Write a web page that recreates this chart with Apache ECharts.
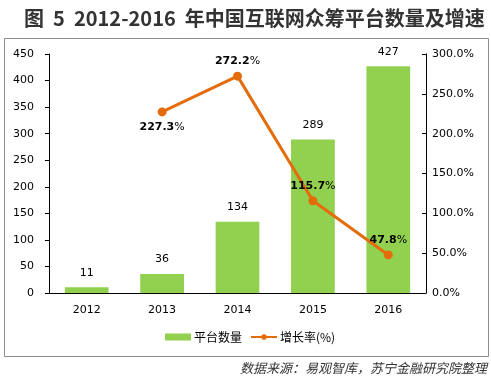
<!DOCTYPE html>
<html><head><meta charset="utf-8">
<script src="https://cdn.jsdelivr.net/npm/echarts@6/dist/echarts.min.js"></script>
<style>html,body{margin:0;padding:0;background:#fff}#c{width:491px;height:380px}</style>
</head><body><div id="c"></div>
<script>
const categories = ['2012','2013','2014','2015','2016'];
const platformCount = [11, 36, 134, 289, 427];
const growthRate = [null, 227.3, 272.2, 115.7, 47.8];
const leftTicks = [0, 450, 50];
const rightTicks = [0, 300, 50];

const chart = echarts.init(document.getElementById('c'));
const numFont = '"DejaVu Sans", Verdana, sans-serif';
const cjk = '"Noto Sans CJK SC", sans-serif';
const labelPos = [null, 'bottom', 'top', 'top', 'top'];
chart.setOption({
  animation: false,
  title: {
    text: '图  5  2012-2016  年中国互联网众筹平台数量及增速',
    left: 19, top: 3,
    textStyle: {fontFamily: cjk, fontSize: 20, fontWeight: 'bold', color: '#333'}
  },
  graphic: [
    {type: 'rect', shape: {x: 4.5, y: 38.5, width: 484, height: 318}, style: {fill: 'none', stroke: '#8c8c8c', lineWidth: 1}, silent: true},
    {type: 'text', right: 4, top: 362, style: {text: '数据来源：易观智库，苏宁金融研究院整理', font: 'italic 13px "Noto Sans CJK SC", sans-serif', fill: '#333'}}
  ],
  legend: {
    top: 326, left: 160, itemGap: 8, itemWidth: 26, itemHeight: 7,
    textStyle: {fontFamily: cjk, fontSize: 12, color: '#000', padding: [0, 0, 0, -2]},
    data: [{name: '平台数量', icon: 'rect'}, {name: '增长率(%)'}]
  },
  grid: {left: 49, right: 65, top: 54, bottom: 87},
  xAxis: {
    type: 'category', data: categories,
    axisLine: {lineStyle: {color: '#000'}},
    axisTick: {length: 4, lineStyle: {color: '#000'}},
    axisLabel: {fontFamily: numFont, fontSize: 11, color: '#000', margin: 12}
  },
  yAxis: [{
    type: 'value', min: leftTicks[0], max: leftTicks[1], interval: leftTicks[2],
    axisLine: {show: true, lineStyle: {color: '#000'}},
    axisTick: {show: true, length: 4, lineStyle: {color: '#000'}},
    splitLine: {show: false},
    axisLabel: {fontFamily: numFont, fontSize: 11, color: '#000', margin: 15}
  }, {
    type: 'value', min: rightTicks[0], max: rightTicks[1], interval: rightTicks[2],
    axisLine: {show: true, lineStyle: {color: '#000'}},
    axisTick: {show: true, inside: true, length: 4, lineStyle: {color: '#000'}},
    splitLine: {show: false},
    axisLabel: {fontFamily: numFont, fontSize: 11, color: '#000', margin: 6,
      formatter: v => v.toFixed(1) + '%'}
  }],
  series: [{
    name: '平台数量', type: 'bar', data: platformCount, barWidth: '58%',
    itemStyle: {color: '#92D050'},
    label: {show: true, position: 'top', distance: 9, fontFamily: numFont, fontSize: 11, color: '#000'}
  }, {
    name: '增长率(%)', type: 'line', yAxisIndex: 1,
    data: growthRate.map((v, i) => v == null ? null : {value: v, label: {position: labelPos[i]}}),
    connectNulls: false,
    lineStyle: {color: '#E46C0A', width: 3},
    itemStyle: {color: '#E46C0A'},
    symbol: 'circle', symbolSize: 9,
    label: {show: true, distance: 5,
      formatter: p => '{b|' + p.value.toFixed(1) + '}{n|%}',
      rich: {b: {fontFamily: numFont, fontSize: 11, fontWeight: 'bold', color: '#000'},
             n: {fontFamily: numFont, fontSize: 11, color: '#000'}}}
  }]
});
</script></body></html>
